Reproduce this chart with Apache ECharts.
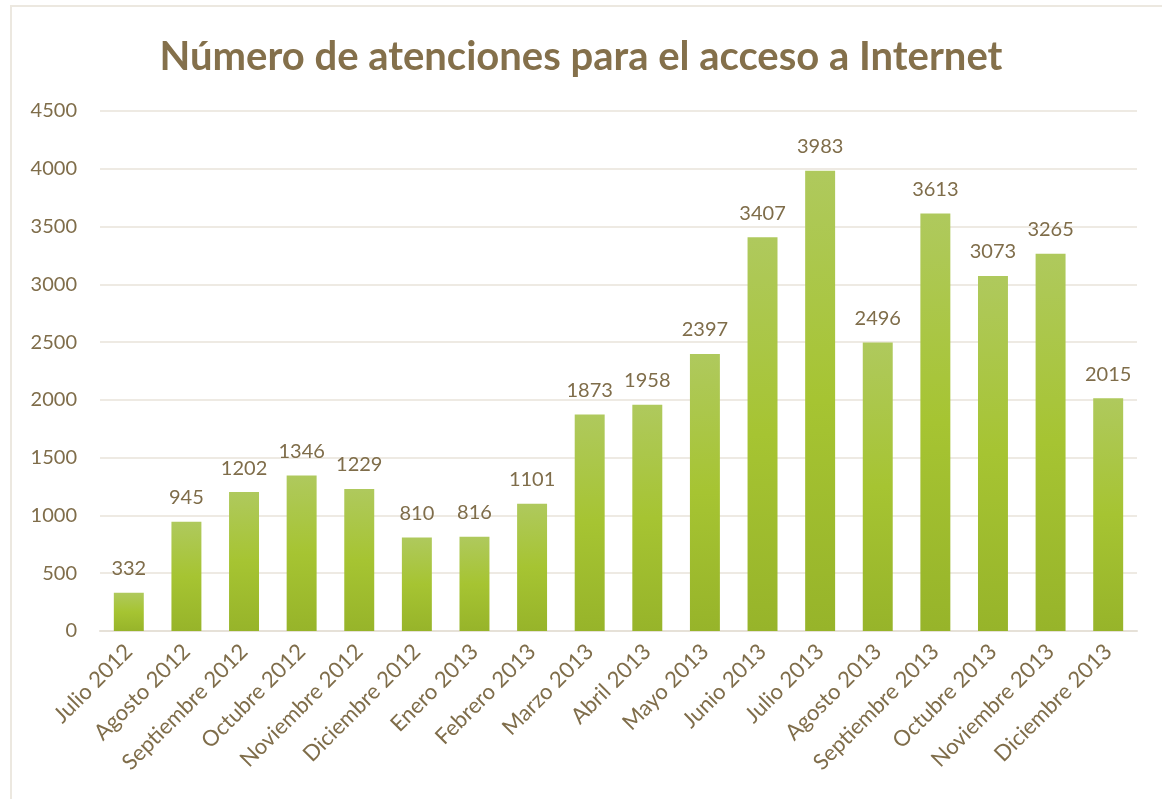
<!DOCTYPE html>
<html>
<head>
<meta charset="utf-8">
<script src="https://cdn.jsdelivr.net/npm/echarts@6/dist/echarts.min.js"></script>
<style>
  html, body { margin: 0; padding: 0; background: #fff; }
  #main { width: 1162px; height: 799px; }
</style>
</head>
<body>
<div id="main"></div>
<script>
const months = ['Julio 2012', 'Agosto 2012', 'Septiembre 2012', 'Octubre 2012', 'Noviembre 2012',
  'Diciembre 2012', 'Enero 2013', 'Febrero 2013', 'Marzo 2013', 'Abril 2013', 'Mayo 2013',
  'Junio 2013', 'Julio 2013', 'Agosto 2013', 'Septiembre 2013', 'Octubre 2013',
  'Noviembre 2013', 'Diciembre 2013']
const atenciones = [332, 945, 1202, 1346, 1229, 810, 816, 1101, 1873, 1958, 2397,
  3407, 3983, 2496, 3613, 3073, 3265, 2015]

const textColor = '#7f6d4a'
const gridColor = '#eeeae3'
const font = 'Lato, "Open Sans", sans-serif'

const chart = echarts.init(document.getElementById('main'))

const option = {
  animation: false,
  backgroundColor: '#fff',
  graphic: [{
    type: 'rect',
    shape: { x: 11, y: 6, width: 1170, height: 820 },
    style: { fill: 'none', stroke: '#ece8e0', lineWidth: 2 },
    silent: true
  }],
  title: {
    text: 'Número de atenciones para el acceso a Internet',
    left: 'center',
    top: 32,
    padding: [5, 0, 5, 14],
    textStyle: { color: '#84704b', fontSize: 40, fontWeight: 'bold', fontFamily: font }
  },
  grid: { left: 100, right: 25, top: 111, bottom: 168 },
  xAxis: {
    type: 'category',
    data: months,
    axisLine: { lineStyle: { color: '#e6e1d8', width: 2 } },
    axisTick: { show: false },
    axisLabel: {
      rotate: 45,
      color: textColor,
      fontSize: 22,
      fontFamily: font,
      interval: 0,
      margin: 17
    }
  },
  yAxis: {
    type: 'value',
    min: 0,
    max: 4500,
    interval: 500,
    axisLine: { show: false },
    axisTick: { show: false },
    splitLine: { lineStyle: { color: gridColor, width: 2 } },
    axisLabel: {
      color: textColor,
      fontSize: 20,
      fontFamily: font,
      margin: 23,
      formatter: v => String(v)
    }
  },
  series: [{
    type: 'bar',
    data: atenciones,
    barWidth: '52%',
    itemStyle: {
      color: new echarts.graphic.LinearGradient(0, 0, 0, 1, [
        { offset: 0, color: '#afc95d' },
        { offset: 0.5, color: '#a6c432' },
        { offset: 1, color: '#97b42a' }
      ])
    },
    label: {
      show: true,
      position: 'top',
      distance: 14,
      color: textColor,
      fontSize: 20,
      fontFamily: font
    }
  }]
}

chart.setOption(option)
</script>
</body>
</html>
